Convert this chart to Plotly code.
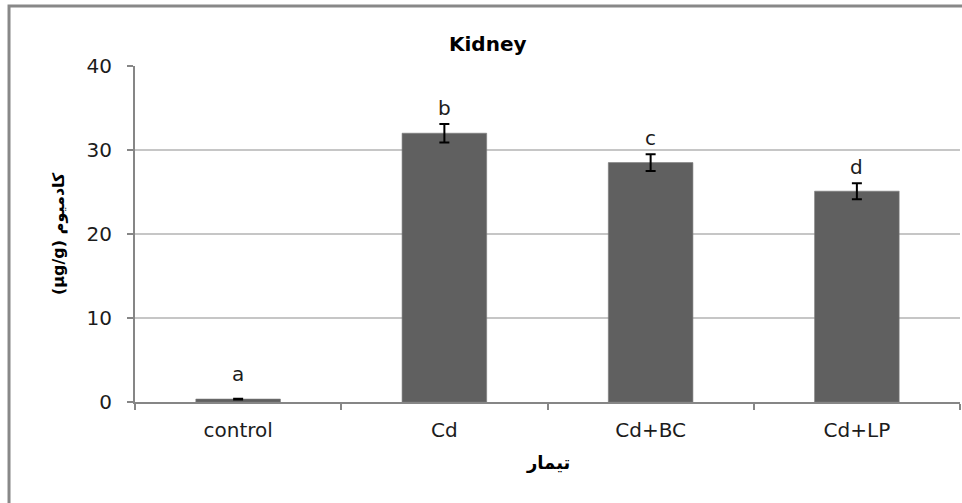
import plotly.graph_objects as go

categories = ["control", "Cd", "Cd+BC", "Cd+LP"]
values = [0.35, 32.0, 28.5, 25.1]
errors = [0.05, 1.1, 1.0, 0.95]
letters = ["a", "b", "c", "d"]
y_ticks = [0, 10, 20, 30, 40]

FONT = "DejaVu Sans, Verdana, sans-serif"
TXT = "#1c1c1c"
letter_shift = [11, 2, 2, 2]

fig = go.Figure()
fig.add_trace(go.Bar(
    x=categories, y=values,
    marker=dict(color="#606060", line=dict(color="#7a7a7a", width=0.6)),
    width=0.41,
    error_y=dict(type="data", array=errors, visible=True, color="black", thickness=2, width=5),
))

for c, v, e, l, s in zip(categories, values, errors, letters, letter_shift):
    fig.add_annotation(x=c, y=v + e, text=l, showarrow=False, yanchor="bottom", yshift=s,
                       font=dict(family=FONT, size=20, color=TXT))

fig.add_annotation(xref="paper", yref="paper", x=0.428, y=1.0655, text="<b>Kidney</b>",
                   xanchor="center", yanchor="middle",
                   showarrow=False, font=dict(family=FONT, size=20, color="black"))
fig.add_annotation(xref="paper", yref="paper", x=0.5, y=-0.1815, text="<b>تیمار</b>",
                   xanchor="center", yanchor="middle",
                   showarrow=False, font=dict(family="DejaVu Sans", size=18, color="black"))
fig.add_annotation(xref="paper", yref="paper", x=-0.0933, y=0.5, text="<b>(µg/g) کادمیوم</b>",
                   xanchor="center", yanchor="middle",
                   textangle=-90, showarrow=False,
                   font=dict(family="DejaVu Sans", size=16, color="black"))

fig.add_shape(type="rect", xref="paper", yref="paper", x0=-0.1527, x1=1.2, y0=-0.6, y1=1.1786,
              line=dict(color="#888888", width=3), fillcolor="rgba(0,0,0,0)", layer="below")

fig.update_layout(
    width=962, height=503,
    margin=dict(l=135, r=2, t=66, b=101),
    plot_bgcolor="white", paper_bgcolor="white",
    showlegend=False,
    xaxis=dict(showline=True, linecolor="#868686", linewidth=2, ticks="outside",
               tickson="boundaries", ticklen=6, tickcolor="#868686", tickwidth=2,
               tickfont=dict(family=FONT, size=20, color=TXT), showgrid=False,
               ticklabelstandoff=9),
    yaxis=dict(range=[0, 40], tickvals=y_ticks, showline=True, linecolor="#868686", linewidth=2,
               ticks="outside", ticklen=6, tickcolor="#868686", tickwidth=2,
               gridcolor="#c6c6c6", gridwidth=2, zeroline=False,
               ticklabelstandoff=11,
               tickfont=dict(family=FONT, size=20, color=TXT)),
)

fig.write_html("out.html", config={"displayModeBar": False},
               post_script="document.body.style.margin='0';")
